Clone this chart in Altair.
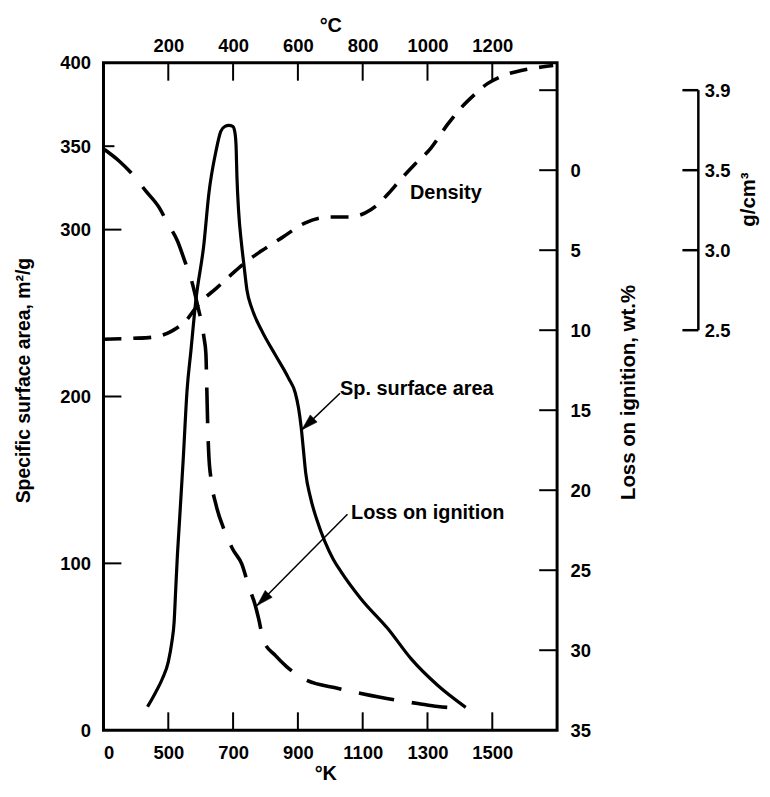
import math
import altair as alt
import pandas as pd

# ---------------- data (x in the ºC-axis units) ----------------
sa_temp = [136, 162, 182, 200, 211, 218, 223, 228, 233, 246, 258, 270, 285, 310, 325, 347, 362, 375, 387,
           399, 405, 409, 412, 417, 426, 433, 443, 458, 488, 531, 571, 592, 602, 610, 617, 624, 638, 658, 684,
           709, 734, 795, 878, 949, 1032, 1118]
sa_area = [14.1, 23.1, 31.0, 41.0, 52.9, 64.8, 84.7, 104.5, 120.4, 162.1, 203.9, 227.7, 257.5, 291.5, 321.3,
           346.9, 358.9, 361.9, 362.5, 361.9, 358.9, 351.1, 331.0, 311.2, 291.5, 279.6, 263.5, 252.8, 239.6,
           224.7, 211.0, 202.1, 193.1, 181.8, 168.1, 154.4, 140.1, 126.4, 112.7, 102.5, 94.8, 78.7, 60.8, 42.9,
           26.8, 13.7]

loi_temp = [3, 49, 90, 131, 172, 197, 228, 254, 269, 289, 310, 316, 319, 322, 325, 332, 347, 372, 399, 427,
            448, 467, 479, 494, 531, 565, 617, 725, 795, 909, 970, 1032, 1068]
loi_pct = [-1.29, -0.56, 0.27, 1.31, 2.34, 3.28, 4.41, 5.86, 6.70, 8.33, 10.44, 11.44, 13.74, 16.23, 17.78,
           19.33, 20.89, 22.45, 23.69, 24.62, 25.99, 27.10, 28.04, 29.40, 30.34, 31.02, 31.77, 32.39, 32.70,
           33.14, 33.33, 33.52, 33.58]

dens_temp = [0, 89, 150, 209, 255, 295, 347, 408, 433, 488, 550, 623, 703, 755, 808, 841, 878, 918, 961,
             1010, 1062, 1102, 1145, 1185, 1225, 1286, 1339, 1388]
dens_gcm3 = [2.443, 2.449, 2.456, 2.493, 2.561, 2.667, 2.760, 2.872, 2.916, 2.996, 3.077, 3.171, 3.208,
             3.208, 3.233, 3.276, 3.351, 3.444, 3.537, 3.637, 3.786, 3.886, 3.972, 4.041, 4.084, 4.122,
             4.141, 4.154]

# axis ticks / labels
top_ticks = [200, 400, 600, 800, 1000, 1200]
bottom_label_vals = [0, 200, 400, 600, 800, 1000, 1200]
left_label_vals = [0, 100, 200, 300, 350, 400]
left_major_ticks = [100, 200, 300]
left_minor_ticks = [350]
loi_label_vals = [-5, 0, 5, 10, 15, 20, 25, 30, 35]
loi_tick_vals = [-5, 0, 5, 10, 15, 20, 25, 30]
dens_tick_vals = [2.5, 3.0, 3.5, 4.0]

# annotations (x in ºC units, y in m²/g units)
ann_text = ["Density", "Sp. surface area", "Loss on ignition"]
ann_t = [946, 730, 764]
ann_v = [318.5, 200.9, 126.8]
arrow_t1 = [730, 753]
arrow_v1 = [201.9, 129.4]
arrow_t2 = [612, 474]
arrow_v2 = [180.0, 74.7]

# ---------------- layout ----------------
W, H = 456, 671
X_MAX = 1400
SA_DOM = [0, 400]
LOI_DOM = [-6.714, 35]
DENS_DOM = [0, 4.1714]
DENS_OFFSET = 142
TICK = 18
FONT = "Liberation Sans"

xscale = alt.Scale(domain=[0, X_MAX], nice=False, zero=False)
sa_scale = alt.Scale(domain=SA_DOM, nice=False, zero=False)
loi_scale = alt.Scale(domain=LOI_DOM, reverse=True, nice=False, zero=False)
dens_scale = alt.Scale(domain=DENS_DOM, nice=False, zero=False)

sa_df = pd.DataFrame({"t": sa_temp, "v": sa_area})
loi_df = pd.DataFrame({"t": loi_temp, "v": loi_pct})
dens_df = pd.DataFrame({"t": dens_temp, "v": dens_gcm3})

sa = alt.Chart(sa_df).mark_line(color="black", strokeWidth=3.2, interpolate="monotone").encode(
    x=alt.X("t:Q", scale=xscale, axis=alt.Axis(
        orient="bottom", values=bottom_label_vals,
        labelExpr="datum.value == 0 ? '0' : format(datum.value + 300, 'd')",
        ticks=False, domain=False, grid=False, labelPadding=13,
        title="°K", titleY=50, titleX=223, titleBaseline="alphabetic")),
    y=alt.Y("v:Q", scale=sa_scale, axis=alt.Axis(
        orient="left", values=left_label_vals, ticks=False, domain=False, grid=False,
        labelPadding=13, title="Specific surface area, m²/g", titleAngle=270, titleFontSize=19.5,
        titleX=-74, titleY=319, titleBaseline="alphabetic")),
)

loi = alt.Chart(loi_df).mark_line(color="black", strokeWidth=3.6, strokeDash=[36, 18],
                                  interpolate="monotone").encode(
    x=alt.X("t:Q", scale=xscale, axis=alt.Axis(
        orient="top", values=top_ticks, labelExpr="format(datum.value, 'd')",
        ticks=False, domain=False, grid=False,
        labelPadding=7, title="°C", titleY=-31, titleBaseline="alphabetic")),
    y=alt.Y("v:Q", scale=loi_scale, axis=alt.Axis(
        orient="right", values=loi_label_vals,
        labelExpr="datum.value < 0 ? '' : datum.value",
        ticks=False, domain=False, grid=False, labelPadding=13,
        title="Loss on ignition, wt.%", titleAngle=270, titleFontSize=20.5,
        titleX=78, titleY=331, titleBaseline="alphabetic")),
)

dens = alt.Chart(dens_df).mark_line(color="black", strokeWidth=3.6, strokeDash=[18, 12],
                                    interpolate="monotone").encode(
    x=alt.X("t:Q", scale=xscale, axis=None),
    y=alt.Y("v:Q", scale=dens_scale, axis=alt.Axis(
        orient="right", offset=DENS_OFFSET, values=dens_tick_vals,
        labelExpr="datum.value == 4 ? '3.9' : format(datum.value, '.1f')",
        ticks=False, domain=False, grid=False, labelPadding=6,
        title="g/cm³", titleAngle=270, titleFontSize=20.5,
        titleX=56, titleY=137, titleBaseline="alphabetic")),
)

rule = dict(color="black", strokeWidth=2)

top_tk = alt.Chart(pd.DataFrame({"t": top_ticks})).mark_rule(**rule).encode(
    x=alt.X("t:Q", scale=xscale, axis=None), y=alt.value(0), y2=alt.value(TICK))
bot_tk = alt.Chart(pd.DataFrame({"t": top_ticks})).mark_rule(**rule).encode(
    x=alt.X("t:Q", scale=xscale, axis=None), y=alt.value(H), y2=alt.value(H - TICK))
left_tk = alt.Chart(pd.DataFrame({"v": left_major_ticks})).mark_rule(**rule).encode(
    y=alt.Y("v:Q", scale=sa_scale, axis=None), x=alt.value(0), x2=alt.value(TICK))
left_tk2 = alt.Chart(pd.DataFrame({"v": left_minor_ticks})).mark_rule(**rule).encode(
    y=alt.Y("v:Q", scale=sa_scale, axis=None), x=alt.value(0), x2=alt.value(11))
right_tk = alt.Chart(pd.DataFrame({"v": loi_tick_vals})).mark_rule(**rule).encode(
    y=alt.Y("v:Q", scale=loi_scale, axis=None), x=alt.value(W - TICK), x2=alt.value(W))
dens_line = alt.Chart(pd.DataFrame({"a": [dens_tick_vals[0]], "b": [dens_tick_vals[-1]]})).mark_rule(
    color="black", strokeWidth=2.5).encode(
    y=alt.Y("a:Q", scale=dens_scale, axis=None), y2="b:Q", x=alt.value(W + DENS_OFFSET))
dens_tk = alt.Chart(pd.DataFrame({"v": dens_tick_vals})).mark_rule(color="black", strokeWidth=2.5).encode(
    y=alt.Y("v:Q", scale=dens_scale, axis=None),
    x=alt.value(W + DENS_OFFSET - 16), x2=alt.value(W + DENS_OFFSET))

ann = alt.Chart(pd.DataFrame({"t": ann_t, "v": ann_v, "s": ann_text})).mark_text(
    font=FONT, fontWeight="bold", fontSize=20, align="left", baseline="alphabetic", color="black").encode(
    x=alt.X("t:Q", scale=xscale, axis=None), y=alt.Y("v:Q", scale=sa_scale, axis=None), text="s:N")

arr_df = pd.DataFrame({"t": arrow_t1, "v": arrow_v1, "t2": arrow_t2, "v2": arrow_v2})
px_per_t = W / X_MAX
px_per_v = H / (SA_DOM[1] - SA_DOM[0])
arr_df["ang"] = [
    math.degrees(math.atan2((b - a) * px_per_t, (d - c) * px_per_v)) % 360
    for a, b, c, d in zip(arrow_t1, arrow_t2, arrow_v1, arrow_v2)
]
arr_line = alt.Chart(arr_df).mark_rule(color="black", strokeWidth=1.5).encode(
    x=alt.X("t:Q", scale=xscale, axis=None), y=alt.Y("v:Q", scale=sa_scale, axis=None),
    x2="t2:Q", y2="v2:Q")
arr_head = alt.Chart(arr_df).mark_point(
    shape="M0,0L-0.3,1L0.3,1Z", filled=True, fill="black", stroke="black", strokeWidth=0.5,
    opacity=1, size=1100).encode(
    x=alt.X("t2:Q", scale=xscale, axis=None), y=alt.Y("v2:Q", scale=sa_scale, axis=None),
    angle=alt.Angle("ang:Q", scale=None))

chart = alt.layer(
    sa, loi, dens, top_tk, bot_tk, left_tk, left_tk2, right_tk, dens_line, dens_tk, ann, arr_line, arr_head
).resolve_scale(y="independent").resolve_axis(x="independent", y="independent").properties(
    width=W, height=H,
    autosize=alt.AutoSizeParams(type="none"),
    padding={"left": 96, "top": 53, "right": 206, "bottom": 52},
).configure_view(stroke="black", strokeWidth=3).configure_axis(
    labelFont=FONT, labelFontWeight="bold", labelFontSize=18.5, labelColor="black",
    titleFont=FONT, titleFontWeight="bold", titleFontSize=20, titleColor="black",
)

chart.save("out.html", embed_options={"renderer": "svg", "actions": False})
